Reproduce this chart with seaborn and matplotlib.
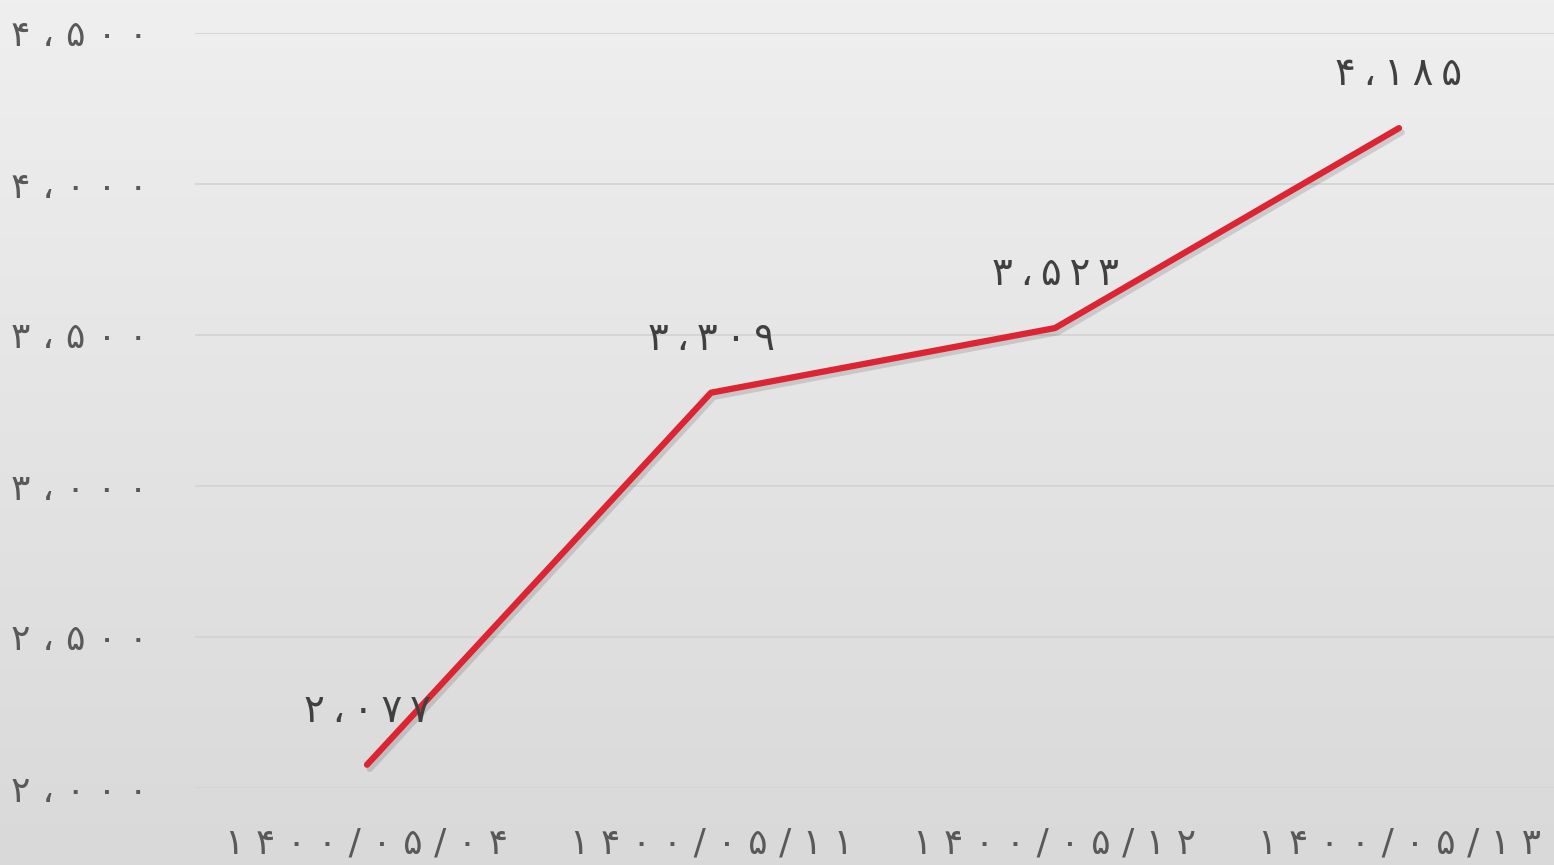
import numpy as np
import pandas as pd
import seaborn as sns
import matplotlib.pyplot as plt
import matplotlib.patheffects as pe
from matplotlib.colors import LinearSegmentedColormap

# Dati
dates = ["1400/05/04", "1400/05/11", "1400/05/12", "1400/05/13"]
values = [2077, 3309, 3523, 4185]
y_ticks = [2000, 2500, 3000, 3500, 4000, 4500]

FA = str.maketrans("0123456789,", "۰۱۲۳۴۵۶۷۸۹،")
SP = "\u2009"


def fa(s, sp=SP):
    # cifre persiane con spaziatura larga
    return sp.join(s.translate(FA))


df = pd.DataFrame({"date": [fa(d, " ") for d in dates], "value": values})

sns.set_style("white")
plt.rcParams["font.family"] = ["DejaVu Sans"]

fig = plt.figure(figsize=(15.54, 8.65), dpi=100)

# sfondo sfumato
bg = fig.add_axes([0, 0, 1, 1], zorder=-10)
grad = np.linspace(0, 1, 256).reshape(-1, 1)
cmap = LinearSegmentedColormap.from_list("bg", ["#efefef", "#d9d9d9"])
bg.imshow(grad, aspect="auto", cmap=cmap, extent=[0, 1, 0, 1], origin="upper")
bg.axis("off")

ax = fig.add_axes([195 / 1554, 1 - 788 / 865, 1376 / 1554, 755 / 865])
ax.patch.set_alpha(0)

sns.lineplot(data=df, x="date", y="value", ax=ax, color="#dc2433", linewidth=4.5,
             sort=False, solid_capstyle="round",
             path_effects=[pe.SimpleLineShadow(offset=(2, -3), shadow_color="#000000", alpha=0.13),
                           pe.Normal()])

for i, v in enumerate(values):
    ax.annotate(fa(f"{v:,}"), (i, v), xytext=(0, 39), textcoords="offset points",
                ha="center", va="center", fontsize=28, color="#404040")

ax.set_xlim(-0.5, 3.5)
ax.set_ylim(2000, 4500)
ax.set_yticks(y_ticks)
ax.set_yticklabels([fa(f"{t:,}", "\u2004") for t in y_ticks], fontsize=26, color="#595959")
ax.tick_params(axis="x", labelsize=26, labelcolor="#595959", pad=28, length=0)
ax.tick_params(axis="y", pad=34, length=0)
ax.grid(axis="y", color="#d4d4d4", linewidth=1.3)
ax.grid(axis="x", visible=False)
sns.despine(ax=ax, left=True, bottom=True)
ax.set_xlabel("")
ax.set_ylabel("")

fig.savefig("out.png", dpi=100)
